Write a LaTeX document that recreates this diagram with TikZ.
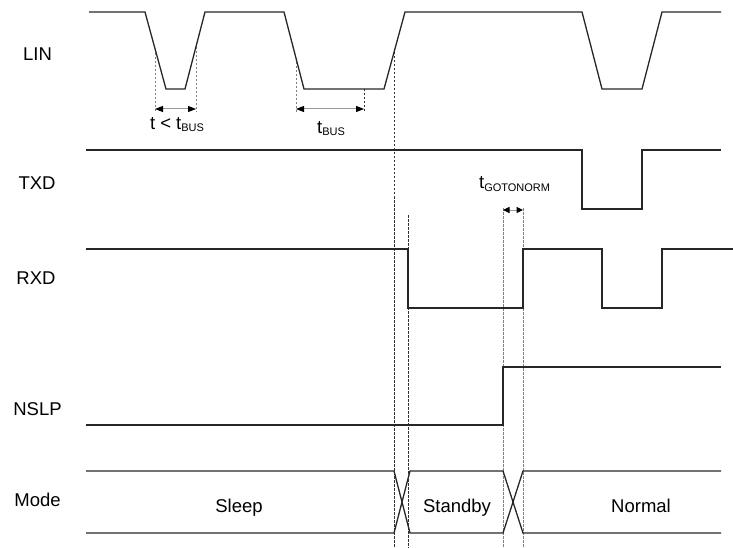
\documentclass[tikz,border=0pt]{standalone}
\usepackage{fontspec}
\setmainfont{Liberation Sans}
\usetikzlibrary{arrows.meta}
\newcommand{\mysubtxt}[1]{\raisebox{-2.5pt}{\fontsize{11}{12}\selectfont #1}}
\begin{document}
\begin{tikzpicture}[x=1pt,y=-1pt,
  sig/.style={line width=1.3pt, draw=black!85, line join=miter},
  guide/.style={line width=0.7pt, draw=black!80, dash pattern=on 2.5pt off 1.5pt},
  guidel/.style={guide, draw=black!50},
  meas/.style={line width=1pt, draw=black!40,
    {Triangle[length=8pt,width=6pt,color=black]}-{Triangle[length=8pt,width=6pt,color=black]}},
  meass/.style={line width=1pt, draw=black!40,
    {Triangle[length=6.5pt,width=6pt,color=black]}-{Triangle[length=6.5pt,width=6pt,color=black]}},
  lab/.style={font=\fontsize{18.5}{20}\selectfont, inner sep=0pt, anchor=base}
]
\useasboundingbox (0,0) rectangle (733,548);

% guide lines
\draw[guidel] (155,49) -- (155,112);
\draw[guidel] (196,47) -- (196,112);
\draw[guidel] (296,58) -- (296,112);
\draw[guide] (364,89) -- (364,112);
\draw[guide] (394,52) -- (394,548);
\draw[guide] (408,215) -- (408,548);
\draw[guidel] (503,208) -- (503,548);
\draw[guidel] (523,208) -- (523,548);

% measurement arrows
\draw[meas] (155,109) -- (196,109);
\draw[meas] (296,109) -- (364,109);
\draw[meass] (503,210) -- (523,210);

% signals
\draw[sig] (89,12) -- (145,12) -- (166,89) -- (185,89) -- (205,12) -- (284,12) -- (304,89) -- (384,89) -- (405,12) -- (582,12) -- (602,89) -- (642,89) -- (662,12) -- (721,12);
\draw[sig] (86,150) -- (582,150) -- (582,209) -- (642,209) -- (642,150) -- (721,150);
\draw[sig] (86,249) -- (408,249) -- (408,308) -- (523,308) -- (523,249) -- (602,249) -- (602,308) -- (662,308) -- (662,249) -- (733,249);
\draw[sig] (86,425) -- (503,425) -- (503,367) -- (721,367);
\draw[sig] (86,471) -- (394,471) -- (410,533) -- (503,533) -- (523,471) -- (721,471);
\draw[sig] (86,533) -- (394,533) -- (410,471) -- (503,471) -- (523,533) -- (721,533);

% signal names
\node[lab] (linlab) at (37.5,60.7) {LIN};
\node[lab] (txdlab) at (37,189.3) {TXD};
\node[lab] (rxdlab) at (36,284) {RXD};
\node[lab] (nslplab) at (37.5,415) {NSLP};
\node[lab] (modelab) at (37.5,506.7) {Mode};

% mode states
\node[lab] (sleep) at (239,512) {Sleep};
\node[lab] (standby) at (457,512) {Standby};
\node[lab] (normal) at (641,512) {Normal};

% timing labels
\node[lab] (tlt) at (177,129.5) {t < t\mysubtxt{BUS}};
\node[lab] (tbus) at (331,133.3) {t\mysubtxt{BUS}};
\node[lab] (tgo) at (514.6,189) {t\mysubtxt{GOTONORM}};
\end{tikzpicture}
\end{document}
